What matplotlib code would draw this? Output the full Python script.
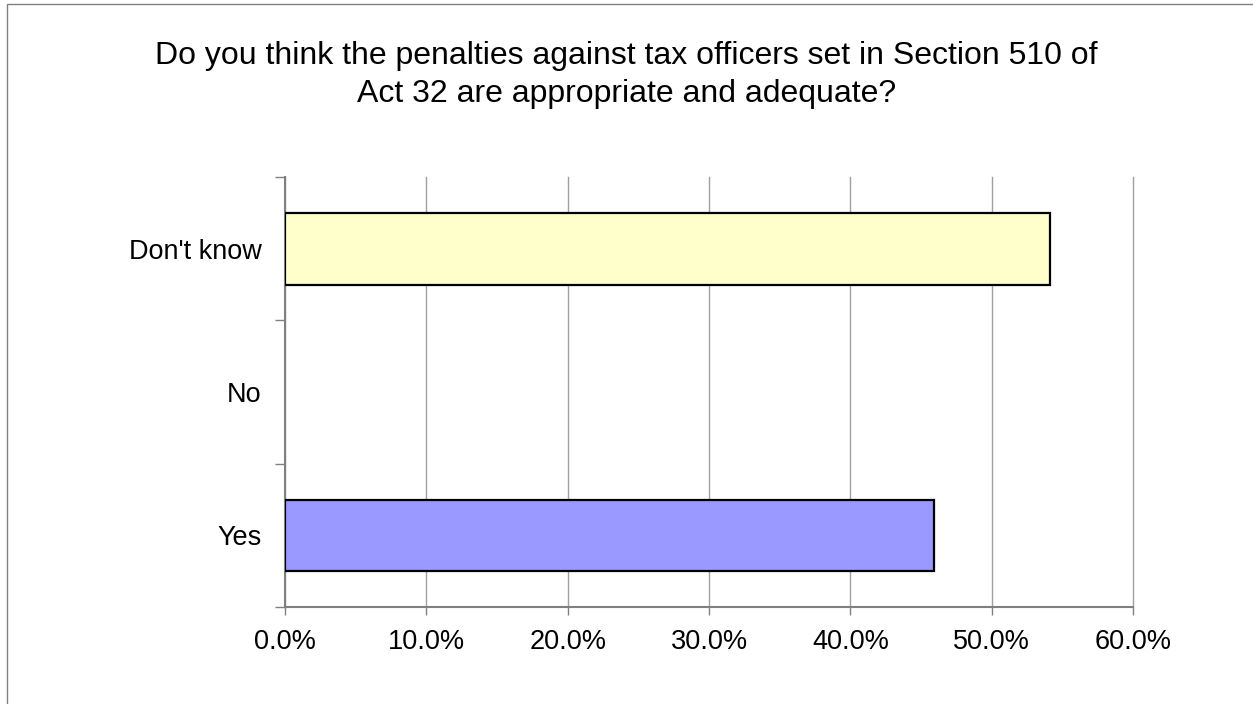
import matplotlib
matplotlib.use("Agg")
import matplotlib.pyplot as plt
from matplotlib.patches import Rectangle
from matplotlib.ticker import FixedLocator, PercentFormatter

plt.rcParams['font.family'] = ['Liberation Sans', 'DejaVu Sans']

# data
categories = ['Yes', 'No', "Don't know"]
shares = [45.9, 0.0, 54.1]
bar_colors = ['#9999FF', '#FFFFFF', '#FFFFCC']
x_ticks = [0, 10, 20, 30, 40, 50, 60]
title = ("Do you think the penalties against tax officers set in Section 510 of\n"
         "Act 32 are appropriate and adequate?")

W, H = 1253, 704
fig = plt.figure(figsize=(W / 100, H / 100), dpi=100)

# outer chart border
fig.add_artist(Rectangle((7 / W, -0.05), 1.2, 1 - 4 / H + 0.05,
                         transform=fig.transFigure, fill=False,
                         edgecolor='#808080', linewidth=1.0))

ax = fig.add_axes([285 / W, 1 - 607 / H, (1133 - 285) / W, (607 - 177) / H])

ypos = list(range(len(categories)))
ax.barh(ypos, shares, height=0.5, color=bar_colors,
        edgecolor='black', linewidth=1.6, zorder=3)
# 'No' is zero, hide its outline
ax.patches[1].set_visible(shares[1] != 0)

ax.set_xlim(0, 60)
ax.set_ylim(-0.5, len(categories) - 0.5)
ax.xaxis.set_major_locator(FixedLocator(x_ticks))
ax.xaxis.set_major_formatter(PercentFormatter(decimals=1))
ax.set_yticks(ypos)
ax.set_yticklabels(categories)
ax.yaxis.set_minor_locator(FixedLocator([-0.5, 0.5, 1.5, 2.5]))

ax.grid(axis='x', color='#A0A0A0', linewidth=1.0, zorder=0)
for gl in ax.get_xgridlines():
    gl.set_clip_on(False)
ax.set_axisbelow(True)

for s in ['top', 'right']:
    ax.spines[s].set_visible(False)
for s in ['left', 'bottom']:
    ax.spines[s].set_color('#808080')
    ax.spines[s].set_linewidth(1.5)

ax.tick_params(axis='x', which='major', direction='out', length=6,
               width=1.0, color='#808080', labelsize=19.5, pad=10)
ax.tick_params(axis='y', which='major', length=0, labelsize=19.5, pad=17)
ax.tick_params(axis='y', which='minor', direction='out', length=7,
               width=1.0, color='#808080')

fig.text(0.5, 1 - 75 / H, title, ha='center', va='center',
         fontsize=23, linespacing=1.32)

fig.savefig('out.png', dpi=100)
